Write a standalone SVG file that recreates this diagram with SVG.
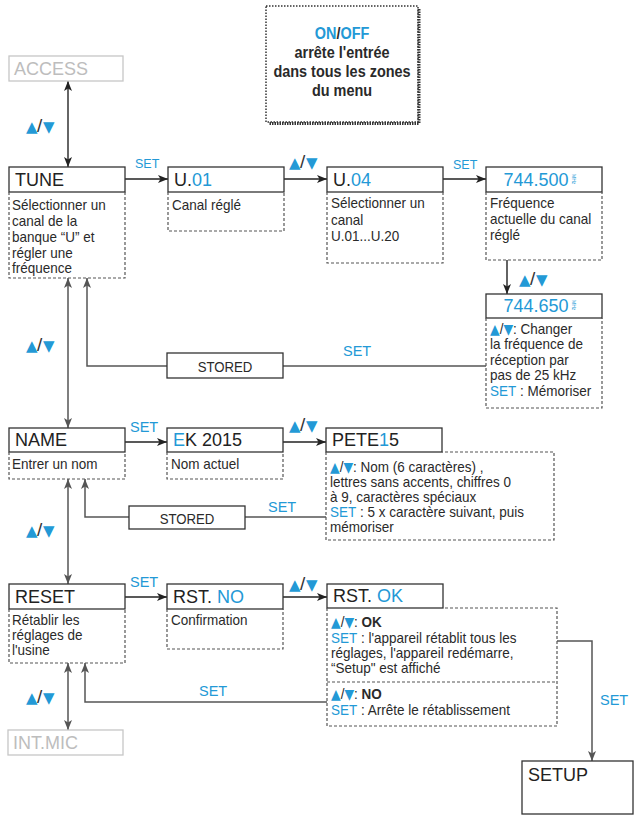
<svg xmlns="http://www.w3.org/2000/svg" width="640" height="815" viewBox="0 0 640 815">
<style>
.lbl{font-family:"Liberation Sans",Arial,sans-serif;font-size:18px;fill:#222}
.gry{font-family:"Liberation Sans",Arial,sans-serif;font-size:18px;fill:#bdbdbd}
.blue{fill:#2399d6}
.d{font-family:"Liberation Sans",Arial,sans-serif;font-size:15px;fill:#2a2a2a}
.bold{font-weight:bold}
.on{font-family:"Liberation Sans",Arial,sans-serif;font-size:17px;font-weight:bold;fill:#2a2a2a;text-anchor:middle}
.set{font-family:"Liberation Sans",Arial,sans-serif;font-size:14.5px;fill:#2399d6}
.sets{font-family:"Liberation Sans",Arial,sans-serif;font-size:12.5px;fill:#2399d6}
.tri{font-family:"DejaVu Sans",sans-serif;font-size:15px;fill:#2399d6}
.dt{font-family:"DejaVu Sans",sans-serif;font-size:14px;fill:#2399d6}
.sl{font-family:"Liberation Sans",Arial,sans-serif;font-size:19px;fill:#333}
.box{fill:#fff;stroke:#333;stroke-width:1.3}
.gbox{fill:#fff;stroke:#c6c6c6;stroke-width:1.3}
.dash{fill:none;stroke:#555;stroke-width:1.2;stroke-dasharray:3 2}
.cb{fill:none;stroke:#222;stroke-width:1.4}
.cg{fill:none;stroke:#555;stroke-width:1.5}
</style>
<defs>
<marker id="ab" markerUnits="userSpaceOnUse" markerWidth="10" markerHeight="8" refX="10" refY="4" orient="auto-start-reverse"><path d="M0,0 L10,4 L0,8 L2.5,4 z" fill="#222"/></marker>
<marker id="ag" markerUnits="userSpaceOnUse" markerWidth="10" markerHeight="8" refX="10" refY="4" orient="auto-start-reverse"><path d="M0,0 L10,4 L0,8 L2.5,4 z" fill="#555"/></marker>
</defs>

<g id="connectors">
<line class="cg" x1="68" y1="81" x2="68" y2="167" marker-start="url(#ab)" marker-end="url(#ab)" style="stroke:#333"/>
<line class="cb" x1="125" y1="179" x2="168" y2="179" marker-end="url(#ab)"/>
<line class="cb" x1="284" y1="179" x2="327" y2="179" marker-end="url(#ab)"/>
<line class="cb" x1="443" y1="179" x2="486" y2="179" marker-end="url(#ab)"/>
<line class="cb" x1="507" y1="260" x2="507" y2="294" marker-end="url(#ab)"/>
<polyline class="cg" points="486,366 87,366 87,278" marker-end="url(#ag)"/>
<line class="cg" x1="68" y1="278" x2="68" y2="428" marker-start="url(#ag)" marker-end="url(#ag)"/>
<line class="cb" x1="125" y1="442" x2="167" y2="442" marker-end="url(#ab)"/>
<line class="cb" x1="283" y1="442" x2="326" y2="442" marker-end="url(#ab)"/>
<polyline class="cg" points="326,517 85,517 85,479" marker-end="url(#ag)"/>
<line class="cg" x1="68" y1="479" x2="68" y2="584" marker-start="url(#ag)" marker-end="url(#ag)"/>
<line class="cb" x1="125" y1="597" x2="167" y2="597" marker-end="url(#ab)"/>
<line class="cb" x1="283" y1="597" x2="327" y2="597" marker-end="url(#ab)"/>
<polyline class="cg" points="557,641 592,641 592,761" marker-end="url(#ag)"/>
<polyline class="cg" points="327,702 85,702 85,663" marker-end="url(#ag)"/>
<line class="cg" x1="68" y1="663" x2="68" y2="730" marker-start="url(#ag)" marker-end="url(#ag)"/>

<text y="132"><tspan class="tri" x="26">▲</tspan><tspan class="sl" x="37">/</tspan><tspan class="tri" x="43">▼</tspan></text>
<text y="351"><tspan class="tri" x="26">▲</tspan><tspan class="sl" x="37">/</tspan><tspan class="tri" x="43">▼</tspan></text>
<text y="536"><tspan class="tri" x="26">▲</tspan><tspan class="sl" x="37">/</tspan><tspan class="tri" x="43">▼</tspan></text>
<text y="703"><tspan class="tri" x="26">▲</tspan><tspan class="sl" x="37">/</tspan><tspan class="tri" x="43">▼</tspan></text>
<text y="168"><tspan class="tri" x="289">▲</tspan><tspan class="sl" x="300">/</tspan><tspan class="tri" x="306">▼</tspan></text>
<text y="431"><tspan class="tri" x="289">▲</tspan><tspan class="sl" x="300">/</tspan><tspan class="tri" x="306">▼</tspan></text>
<text y="590"><tspan class="tri" x="289">▲</tspan><tspan class="sl" x="300">/</tspan><tspan class="tri" x="306">▼</tspan></text>
<text y="285"><tspan class="tri" x="519">▲</tspan><tspan class="sl" x="530">/</tspan><tspan class="tri" x="536">▼</tspan></text>

<text class="sets" x="135" y="168">SET</text>
<text class="sets" x="453" y="169">SET</text>
<text class="set" x="343" y="356">SET</text>
<text class="set" x="130" y="432">SET</text>
<text class="set" x="268" y="512">SET</text>
<text class="set" x="130" y="587">SET</text>
<text class="set" x="199" y="696">SET</text>
<text class="set" x="600" y="705">SET</text>
</g>

<g id="onoff">
<rect x="266" y="6" width="152" height="116" fill="#fff" stroke="#333" stroke-width="1.5" stroke-dasharray="1.5 1.5"/>
<path d="M419,9 V123.5 H269" fill="none" stroke="#333" stroke-width="3" stroke-dasharray="1.5 1"/>
<text class="on" transform="matrix(.85 0 0 1 342 0)" y="39"><tspan class="blue">ON</tspan>/<tspan class="blue">OFF</tspan></text>
<text class="on" transform="matrix(.85 0 0 1 342 0)" y="58">arrête l'entrée</text>
<text class="on" transform="matrix(.85 0 0 1 342 0)" y="77">dans tous les zones</text>
<text class="on" transform="matrix(.85 0 0 1 342 0)" y="96">du menu</text>
</g>

<g id="access">
<rect class="gbox" x="9" y="56" width="114" height="25"/>
<text class="gry" x="14" y="75">ACCESS</text>
</g>

<g id="tune">
<rect class="box" x="9" y="167" width="116" height="25"/>
<path class="dash" d="M9,192 V278 H125 V192"/>
<text class="lbl" x="15" y="186">TUNE</text>
<g transform="matrix(.9 0 0 1 12 0)">
<text class="d" y="210">Sélectionner un</text>
<text class="d" y="226">canal de la</text>
<text class="d" y="242">banque “U” et</text>
<text class="d" y="258">régler une</text>
<text class="d" y="273">fréquence</text>
</g>
</g>

<g id="u01">
<rect class="box" x="168" y="167" width="116" height="25"/>
<path class="dash" d="M168,192 V231 H284 V192"/>
<text class="lbl" x="174" y="186">U.<tspan class="blue">01</tspan></text>
<text class="d" transform="matrix(.9 0 0 1 172 0)" y="210">Canal réglé</text>
</g>

<g id="u04">
<rect class="box" x="327" y="167" width="116" height="25"/>
<path class="dash" d="M327,192 V263 H443 V192"/>
<text class="lbl" x="333" y="186">U.<tspan class="blue">04</tspan></text>
<g transform="matrix(.9 0 0 1 331 0)">
<text class="d" y="208">Sélectionner un</text>
<text class="d" y="225">canal</text>
<text class="d" y="241">U.01...U.20</text>
</g>
</g>

<g id="f500">
<rect class="box" x="486" y="167" width="116" height="25"/>
<path class="dash" d="M486,192 V260 H602 V192"/>
<text class="lbl blue" x="536" y="186" text-anchor="middle">744.500</text>
<text class="blue" x="572" y="174" font-family="Liberation Sans, sans-serif" font-size="5" transform="rotate(90 572 174)">MHz</text>
<g transform="matrix(.9 0 0 1 490 0)">
<text class="d" y="208">Fréquence</text>
<text class="d" y="224">actuelle du canal</text>
<text class="d" y="240">réglé</text>
</g>
</g>

<g id="f650">
<rect class="box" x="486" y="294" width="116" height="24"/>
<path class="dash" d="M486,318 V408 H602 V318"/>
<text class="lbl blue" x="536" y="312" text-anchor="middle">744.650</text>
<text class="blue" x="572" y="300" font-family="Liberation Sans, sans-serif" font-size="5" transform="rotate(90 572 300)">MHz</text>
<g transform="matrix(.9 0 0 1 490 0)">
<text class="d" y="334"><tspan class="dt">▲</tspan>/<tspan class="dt">▼</tspan>: Changer</text>
<text class="d" y="349.5">la fréquence de</text>
<text class="d" y="365">réception par</text>
<text class="d" y="380.5">pas de 25 kHz</text>
<text class="d" y="396"><tspan class="blue">SET</tspan> : Mémoriser</text>
</g>
</g>

<g id="stored1">
<rect class="box" x="167" y="353" width="116" height="25"/>
<text class="d" transform="matrix(.88 0 0 1 225 0)" y="372" text-anchor="middle" font-size="16.5">STORED</text>
</g>

<g id="name">
<rect class="box" x="9" y="428" width="116" height="24"/>
<path class="dash" d="M9,452 V479 H125 V452"/>
<text class="lbl" x="15" y="446">NAME</text>
<text class="d" transform="matrix(.9 0 0 1 12 0)" y="469">Entrer un nom</text>
</g>

<g id="ek">
<rect class="box" x="167" y="428" width="116" height="24"/>
<path class="dash" d="M167,452 V479 H283 V452"/>
<text class="lbl" x="173" y="446"><tspan class="blue">E</tspan>K 2015</text>
<text class="d" transform="matrix(.9 0 0 1 171 0)" y="469">Nom actuel</text>
</g>

<g id="pete">
<rect class="box" x="326" y="428" width="116" height="24"/>
<path class="dash" d="M326,452 V540 H554 V452 H442"/>
<text class="lbl" x="332" y="446">PETE<tspan class="blue">1</tspan>5</text>
<g transform="matrix(.9 0 0 1 330 0)">
<text class="d" y="472"><tspan class="dt">▲</tspan>/<tspan class="dt">▼</tspan>: Nom (6 caractères) ,</text>
<text class="d" y="487">lettres sans accents, chiffres 0</text>
<text class="d" y="502">à 9, caractères spéciaux</text>
<text class="d" y="517"><tspan class="blue">SET</tspan> : 5 x caractère suivant, puis</text>
<text class="d" y="532">mémoriser</text>
</g>
</g>

<g id="stored2">
<rect class="box" x="129" y="506" width="116" height="23"/>
<text class="d" transform="matrix(.88 0 0 1 187 0)" y="524" text-anchor="middle" font-size="16.5">STORED</text>
</g>

<g id="reset">
<rect class="box" x="9" y="584" width="116" height="25"/>
<path class="dash" d="M9,609 V663 H125 V609"/>
<text class="lbl" x="15" y="603">RESET</text>
<g transform="matrix(.9 0 0 1 12 0)">
<text class="d" y="625">Rétablir les</text>
<text class="d" y="640">réglages de</text>
<text class="d" y="655">l'usine</text>
</g>
</g>

<g id="rstno">
<rect class="box" x="167" y="584" width="116" height="25"/>
<path class="dash" d="M167,609 V649 H283 V609"/>
<text class="lbl" x="173" y="603">RST. <tspan class="blue">NO</tspan></text>
<text class="d" transform="matrix(.9 0 0 1 171 0)" y="625">Confirmation</text>
</g>

<g id="rstok">
<rect class="box" x="327" y="584" width="116" height="24"/>
<path class="dash" d="M327,608 V726 H557 V608 H443 M327,682 H557"/>
<text class="lbl" x="333" y="602">RST. <tspan class="blue">OK</tspan></text>
<g transform="matrix(.9 0 0 1 331 0)">
<text class="d" y="627"><tspan class="dt">▲</tspan>/<tspan class="dt">▼</tspan>:  <tspan class="bold">OK</tspan></text>
<text class="d" y="643"><tspan class="blue">SET</tspan> : l'appareil rétablit tous les</text>
<text class="d" y="658">réglages, l'appareil redémarre,</text>
<text class="d" y="673">“Setup" est affiché</text>
<text class="d" y="699"><tspan class="dt">▲</tspan>/<tspan class="dt">▼</tspan>:  <tspan class="bold">NO</tspan></text>
<text class="d" y="715"><tspan class="blue">SET</tspan> : Arrête le rétablissement</text>
</g>
</g>

<g id="setup">
<rect class="box" x="522" y="761" width="111" height="53"/>
<text class="lbl" x="528" y="781">SETUP</text>
</g>

<g id="intmic">
<rect class="gbox" x="8" y="730" width="115" height="25"/>
<text class="gry" x="13" y="749">INT.MIC</text>
</g>
</svg>
